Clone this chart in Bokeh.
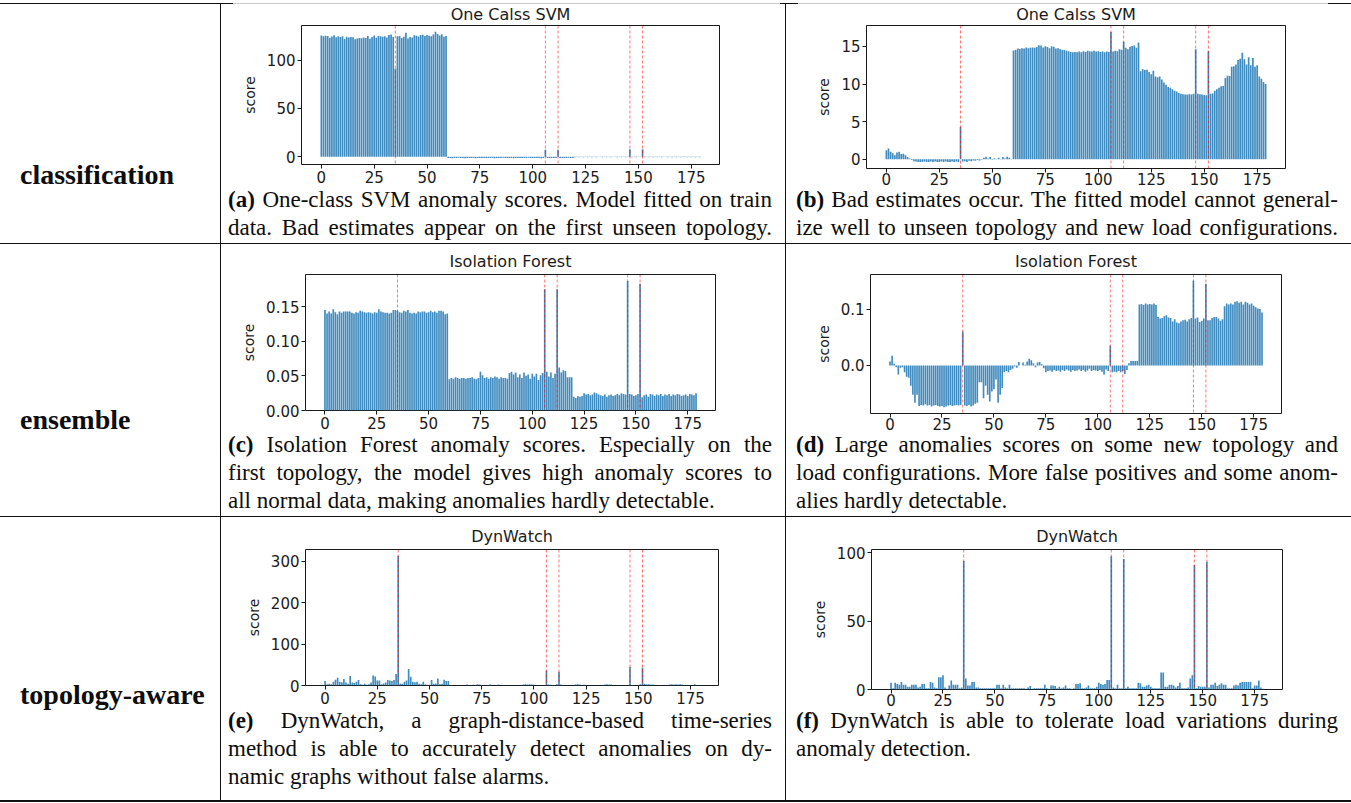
from bokeh.plotting import figure
from bokeh.layouts import row, column
from bokeh.models import Div, Span, Range1d, FixedTicker, NumeralTickFormatter
from bokeh.embed import file_html
from bokeh.resources import INLINE

# ---------------- data ----------------
timesteps = list(range(180))
anomalies = [35, 106, 112, 146, 152]
x_ticks = [0, 25, 50, 75, 100, 125, 150, 175]

row_labels = ["classification", "ensemble", "topology-aware"]
plot_titles = ["One Calss SVM", "Isolation Forest", "DynWatch"]

ocsvm_left = [
    125.5, 124.8, 125.2, 125.0, 123.2, 124.5, 125.8, 123.8, 124.6, 123.9,
    124.8, 122.0, 124.2, 123.5, 124.0, 123.6, 121.5, 122.4, 123.0, 122.6,
    123.4, 123.0, 124.9, 122.2, 124.0, 125.6, 123.1, 125.0, 124.7, 124.2,
    124.6, 123.5, 125.9, 126.6, 124.0, 91.0, 124.8, 125.0, 122.9, 124.3,
    128.4, 122.5, 124.0, 123.3, 125.8, 125.2, 124.4, 125.9, 126.2, 125.0,
    126.0, 125.3, 124.8, 126.4, 129.3, 127.0, 125.5, 126.8, 124.2, 125.0,
    -1.3, -1.1, -1.4, -1.2, -1.3, -1.0, -1.3, -1.2, -1.4, -1.1,
    -1.2, -1.3, -1.1, -1.4, -1.2, -1.3, -1.2, -1.1, -1.3, -1.2,
    -1.3, -1.2, -1.4, -1.1, -1.2, -1.3, -1.0, -1.2, -1.3, -1.1,
    -1.2, -1.4, -1.1, -1.3, -1.2, -1.1, -1.3, -1.2, -0.9, -1.3,
    -1.2, -1.1, -1.3, -1.2, -1.4, -1.2, 7.4, -1.3, -1.1, -1.2,
    -1.3, -1.2, 7.2, -1.1, -1.3, -1.2, -1.3, -1.0, -1.2, -1.1,
    -0.4, -0.3, -0.5, -0.3, -0.4, -0.2, -0.4, -0.3, -0.5, -0.3,
    -0.4, -0.3, -0.2, -0.4, -0.3, -0.5, -0.3, -0.4, -0.3, -0.2,
    -0.4, -0.3, -0.4, -0.3, -0.5, -0.3, 7.8, -0.4, -0.3, -0.4,
    -0.3, -0.2, 7.9, -0.4, -0.3, -0.4, -0.3, -0.5, -0.3, -0.4,
    -0.3, -0.4, -0.2, -0.3, -0.4, -0.3, -0.5, -0.3, -0.4, -0.3,
    -0.4, -0.3, -0.2, -0.4, -0.3, -0.4, -0.3, -0.5, -0.3, -0.4,
]

ocsvm_right = [
    1.2, 1.45, 1.0, 0.8, 0.55, 0.9, 1.0, 0.7, 0.75, 0.55,
    0.3, 0.1, -0.1, -0.25, -0.3, -0.35, -0.35, -0.35, -0.3, -0.35,
    -0.35, -0.3, -0.35, -0.3, -0.35, -0.35, -0.3, -0.35, -0.3, -0.35,
    -0.35, -0.3, -0.35, -0.3, -0.35, 4.3, -0.3, -0.25, -0.35, -0.2,
    -0.25, -0.15, -0.2, -0.1, -0.15, -0.05, 0.2, 0.35, 0.1, 0.3,
    -0.05, 0.15, 0.05, 0.2, 0.05, 0.3, 0.1, 0.35, 0.2, 0.05,
    14.45, 14.5, 14.7, 14.65, 14.75, 14.7, 14.85, 14.75, 14.8, 14.85,
    14.8, 14.9, 15.15, 15.1, 14.85, 15.0, 14.9, 14.75, 15.0, 14.95,
    14.7, 14.75, 14.6, 14.55, 14.5, 14.4, 14.35, 14.25, 14.2, 14.25,
    14.2, 14.3, 14.2, 14.35, 14.25, 14.4, 14.35, 14.3, 14.4, 14.3,
    14.35, 14.25, 14.3, 14.2, 14.3, 14.25, 16.9, 14.3, 14.4, 14.35,
    14.6, 14.55, 15.6, 14.8, 14.6, 14.95, 15.05, 15.1, 14.8, 15.5,
    11.7, 11.95, 11.85, 11.9, 11.6, 11.3, 11.75, 11.0, 10.9, 11.0,
    10.6, 10.2, 9.9, 9.6, 9.5, 9.3, 9.1, 9.0, 8.8, 8.7,
    8.65, 8.6, 8.6, 8.65, 8.6, 8.7, 14.6, 8.7, 8.65, 8.6,
    8.55, 8.5, 14.35, 8.7, 8.75, 9.1, 9.3, 9.5, 9.7, 9.75,
    10.8, 11.1, 11.05, 12.3, 12.35, 12.6, 13.2, 13.35, 14.15, 13.3,
    12.6, 13.55, 12.5, 13.45, 12.3, 12.5, 11.0, 10.7, 10.25, 10.0,
]

iforest_left = [
    0.145, 0.140, 0.143, 0.140, 0.146, 0.142, 0.139, 0.143, 0.141, 0.143,
    0.143, 0.143, 0.143, 0.141, 0.140, 0.142, 0.141, 0.144, 0.143, 0.142,
    0.141, 0.142, 0.141, 0.140, 0.142, 0.141, 0.146, 0.143, 0.142, 0.141,
    0.141, 0.140, 0.141, 0.145, 0.145, 0.144, 0.142, 0.141, 0.144, 0.143,
    0.145, 0.141, 0.140, 0.141, 0.140, 0.143, 0.142, 0.143, 0.143, 0.141,
    0.142, 0.144, 0.142, 0.143, 0.141, 0.144, 0.144, 0.143, 0.139, 0.140,
    0.045, 0.047, 0.046, 0.048, 0.047, 0.046, 0.047, 0.047, 0.046, 0.047,
    0.047, 0.048, 0.046, 0.045, 0.047, 0.056, 0.051, 0.047, 0.048, 0.046,
    0.048, 0.047, 0.049, 0.048, 0.046, 0.048, 0.047, 0.047, 0.046, 0.054,
    0.056, 0.052, 0.055, 0.048, 0.052, 0.047, 0.055, 0.050, 0.052, 0.046,
    0.053, 0.049, 0.053, 0.044, 0.051, 0.054, 0.175, 0.056, 0.049, 0.055,
    0.047, 0.053, 0.175, 0.062, 0.055, 0.058, 0.057, 0.048, 0.048, 0.048,
    0.020, 0.018, 0.021, 0.020, 0.021, 0.025, 0.023, 0.024, 0.022, 0.023,
    0.026, 0.025, 0.023, 0.022, 0.021, 0.023, 0.020, 0.022, 0.023, 0.021,
    0.022, 0.024, 0.022, 0.025, 0.024, 0.023, 0.187, 0.024, 0.023, 0.021,
    0.022, 0.024, 0.183, 0.019, 0.022, 0.023, 0.020, 0.024, 0.023, 0.021,
    0.023, 0.022, 0.024, 0.021, 0.023, 0.022, 0.024, 0.021, 0.023, 0.022,
    0.024, 0.023, 0.021, 0.022, 0.023, 0.021, 0.024, 0.023, 0.022, 0.025,
]

iforest_right = [
    0.007, 0.017, 0.003, -0.003, -0.016, -0.004, -0.003, -0.012, -0.020, -0.022,
    -0.036, -0.052, -0.066, -0.052, -0.072, -0.070, -0.071, -0.069, -0.071, -0.070,
    -0.073, -0.071, -0.070, -0.072, -0.073, -0.072, -0.074, -0.073, -0.071, -0.070,
    -0.072, -0.071, -0.070, -0.071, -0.070, 0.060, -0.071, -0.072, -0.070, -0.073,
    -0.071, -0.068, -0.066, -0.030, -0.030, -0.058, -0.036, -0.052, -0.064, -0.046,
    -0.042, -0.025, -0.066, -0.052, -0.040, -0.012, -0.010, -0.012, -0.008, -0.006,
    -0.002, -0.004, 0.006, 0.000, 0.005, 0.001, 0.007, 0.012, 0.009, 0.004,
    -0.003, 0.005, 0.006, 0.002, -0.005, -0.012, -0.010, -0.009, -0.011, -0.008,
    -0.010, -0.009, -0.011, -0.008, -0.010, -0.007, -0.009, -0.011, -0.008, -0.010,
    -0.009, -0.007, -0.010, -0.008, -0.011, -0.009, -0.006, -0.010, -0.008, -0.009,
    -0.010, -0.008, -0.011, -0.016, -0.007, -0.010, 0.035, -0.012, -0.011, -0.012,
    -0.010, -0.012, -0.010, -0.015, -0.008, 0.004, 0.008, 0.008, 0.008, 0.008,
    0.108, 0.109, 0.107, 0.110, 0.108, 0.109, 0.108, 0.110, 0.107, 0.086,
    0.083, 0.084, 0.087, 0.089, 0.085, 0.084, 0.078, 0.082, 0.076, 0.075,
    0.078, 0.080, 0.081, 0.078, 0.082, 0.084, 0.150, 0.083, 0.085, 0.077,
    0.079, 0.083, 0.145, 0.080, 0.080, 0.084, 0.086, 0.086, 0.083, 0.079,
    0.082, 0.105, 0.110, 0.108, 0.110, 0.108, 0.113, 0.114, 0.111, 0.113,
    0.108, 0.113, 0.111, 0.108, 0.110, 0.106, 0.103, 0.101, 0.100, 0.094,
]

dynwatch_left = [
    11, 3, 4, 3, 9, 14, 19, 9, 8, 16,
    7, 4, 23, 7, 6, 9, 13, 3, 2, 4,
    2, 3, 7, 24, 22, 12, 12, 3, 5, 7,
    13, 12, 11, 13, 28, 313, 5, 4, 9, 12,
    40, 21, 9, 8, 9, 4, 3, 9, 3, 2,
    2, 13, 4, 5, 17, 3, 4, 14, 11, 11,
    1.0, 0.5, 0.3, 0.5, 0.4, 0.6, 0.3, 0.5, 2.5, 0.4,
    0.3, 2.0, 0.5, 3.0, 2.5, 1.0, 0.4, 0.3, 0.5, 2.5,
    0.4, 0.3, 0.5, 2.5, 0.3, 0.4, 0.5, 0.3, 0.6, 0.4,
    0.5, 0.3, 0.4, 0.5, 0.6, 2.5, 3.0, 2.5, 3.0, 2.5,
    2.0, 0.5, 0.4, 0.3, 0.5, 1.0, 36.0, 2.5, 2.0, 1.0,
    0.5, 3.0, 33.0, 2.5, 1.0, 0.4, 0.5, 0.3, 0.4, 0.5,
    2.5, 3.0, 2.5, 0.5, 2.0, 0.4, 0.3, 0.5, 0.4, 0.3,
    0.5, 0.4, 0.3, 0.5, 2.5, 3.0, 2.5, 2.5, 0.4, 0.3,
    0.5, 0.4, 0.3, 0.5, 0.4, 0.6, 45.0, 1.0, 0.4, 0.3,
    0.5, 3.0, 43.0, 4.0, 3.0, 3.0, 2.5, 2.5, 0.4, 0.3,
    0.5, 0.4, 0.3, 0.5, 0.4, 2.5, 3.0, 2.5, 3.0, 2.5,
    3.0, 2.5, 0.4, 0.3, 0.5, 0.4, 0.3, 3.0, 0.5, 0.4,
]

dynwatch_right = [
    5, 1, 5, 4, 3.5, 5.5, 3.5, 3.5, 2, 2,
    3.5, 3.5, 3.5, 1.5, 2, 4, 4, 1, 1, 5.5,
    5, 1.5, 1, 9, 9, 10.5, 1.5, 0.5, 3, 6.5,
    3.5, 3.5, 3.5, 1, 1.5, 94, 8, 3, 3, 5.5,
    5.5, 1.5, 1.5, 1, 1, 1, 1, 1, 1, 1,
    1, 3.5, 3.5, 1, 3.5, 1.5, 1, 3.5, 1, 1,
    1, 1, 1, 1, 1, 0.5, 1.5, 2.5, 0.5, 1,
    1, 1, 1, 1, 3.5, 1, 0.5, 3, 3, 2.5,
    1, 2, 1, 1.5, 3, 1, 1, 0.5, 1, 4,
    4, 4.5, 1, 1, 1.5, 3, 1, 1, 1, 2,
    5, 4, 3.5, 4, 7, 7, 97.5, 1.5, 1, 3.5,
    1, 1, 95.5, 1, 2, 1, 1, 1, 1, 5,
    4.5, 2, 2, 3, 3.5, 2, 1, 1, 1, 1,
    12.5, 12.5, 2, 2, 3.5, 3.5, 3, 1.5, 2.5, 5,
    1, 1, 1, 1.5, 8, 10.5, 91, 1, 2.5, 2,
    2, 2, 93.5, 1.5, 3.5, 3.5, 5, 2.5, 3.5, 4.5,
    3.5, 3.5, 1, 1, 1, 3, 3.5, 3, 5, 5.5,
    5.5, 5.5, 5.5, 5.5, 1, 3, 3, 6.5, 1.5, 0.5,
]

captions = {
    "a": ("(a)", ["One-class SVM anomaly scores. Model fitted on train",
                  "data. Bad estimates appear on the first unseen topology."], True),
    "b": ("(b)", ["Bad estimates occur. The fitted model cannot general-",
                  "ize well to unseen topology and new load configurations."], True),
    "c": ("(c)", ["Isolation Forest anomaly scores. Especially on the",
                  "first topology, the model gives high anomaly scores to",
                  "all normal data, making anomalies hardly detectable."], False),
    "d": ("(d)", ["Large anomalies scores on some new topology and",
                  "load configurations. More false positives and some anom-",
                  "alies hardly detectable."], False),
    "e": ("(e)", ["DynWatch, a graph-distance-based time-series",
                  "method is able to accurately detect anomalies on dy-",
                  "namic graphs without false alarms."], False),
    "f": ("(f)", ["DynWatch is able to tolerate load variations during",
                  "anomaly detection."], False),
}

# ---------------- helpers ----------------
TXT = "#1a1a1a"
CAP = "#0d0d0d"
SERIF = "'Liberation Serif', 'Times New Roman', serif"


def bar_panel(title, values, yticks, yfmt, width, height, bl, fw, bt, fh, tstand, xstand, valign):
    lo = min(0.0, min(values))
    hi = max(0.0, max(values))
    span = hi - lo
    y0 = lo - 0.05 * span if lo < 0 else 0.0
    y1 = hi + 0.05 * span
    p = figure(width=width, height=height, output_backend="svg", toolbar_location=None,
               x_range=Range1d(-9.39, 188.39), y_range=Range1d(y0, y1),
               min_border_left=bl, min_border_right=width - bl - fw,
               min_border_top=bt, min_border_bottom=height - bt - fh,
               background_fill_color="white", border_fill_color="white",
               margin=(0, 0, 0, 0))
    p.vbar(x=timesteps, top=values, bottom=0, width=0.8,
           fill_color="#1f77b4", fill_alpha=0.85, line_color=None)
    for a in anomalies:
        p.add_layout(Span(location=a, dimension="height", line_color="red",
                          line_width=1, line_dash="3 2", line_alpha=0.55))
    p.title.text = title
    p.title.align = "center"
    p.title.vertical_align = valign
    p.title.text_font = "DejaVu Sans"
    p.title.text_font_size = "16px"
    p.title.text_font_style = "normal"
    p.title.text_color = TXT
    p.title.standoff = tstand
    p.outline_line_color = "#1a1a1a"
    p.outline_line_width = 1
    p.xgrid.visible = False
    p.ygrid.visible = False
    p.xaxis.ticker = FixedTicker(ticks=x_ticks)
    p.yaxis.ticker = FixedTicker(ticks=yticks)
    p.yaxis.formatter = NumeralTickFormatter(format=yfmt)
    for ax in (p.xaxis[0], p.yaxis[0]):
        ax.axis_line_color = None
        ax.major_tick_out = 4
        ax.major_tick_in = 0
        ax.major_tick_line_color = "#1a1a1a"
        ax.minor_tick_line_color = None
        ax.major_label_text_font = "DejaVu Sans"
        ax.major_label_text_font_size = "15px"
        ax.major_label_text_color = TXT
        ax.major_label_standoff = 2
    p.xaxis.major_label_standoff = xstand
    p.yaxis.axis_label = "score"
    p.yaxis.axis_label_text_font = "DejaVu Sans"
    p.yaxis.axis_label_text_font_size = "14px"
    p.yaxis.axis_label_text_font_style = "normal"
    p.yaxis.axis_label_text_color = TXT
    p.yaxis.axis_label_standoff = 6
    return p


def caption_div(key, width, height, left, text_w, tops):
    tag, lines, justify_last = captions[key]
    parts = [f'<div style="position:relative;width:{width}px;height:{height}px;'
             f'font-family:{SERIF};font-size:23px;color:{CAP};">']
    for i, (ln, top) in enumerate(zip(lines, tops)):
        last = i == len(lines) - 1
        al = "justify" if (not last or justify_last) else "left"
        txt = (f"<b>{tag}</b> " + ln) if i == 0 else ln
        parts.append(f'<div style="position:absolute;left:{left}px;top:{top}px;width:{text_w}px;'
                     f'line-height:20px;text-align:{al};text-align-last:{al};">{txt}</div>')
    parts.append("</div>")
    return Div(text="".join(parts), width=width, height=height, margin=(0, 0, 0, 0))


def label_div(text, height, top):
    html = (f'<div style="position:relative;width:220px;height:{height}px;">'
            f'<div style="position:absolute;left:20px;top:{top}px;line-height:30px;'
            f'font-family:{SERIF};font-size:28px;font-weight:bold;color:{CAP};">{text}</div></div>')
    return Div(text=html, width=220, height=height, margin=(0, 0, 0, 0))


def seg(w, h, color):
    return Div(text="", width=w, height=h, margin=(0, 0, 0, 0),
               styles={"background-color": color})


def hline(h=1, color="#111111"):
    return seg(1351, h, color)


def vline(h):
    return seg(1, h, "#111111")


# top rule: dark where it is not covered by the plot images, light where it is
top_rule = row(seg(233, 1, "#111111"), seg(547, 1, "#c8c8c8"), seg(18, 1, "#111111"),
               seg(530, 1, "#c8c8c8"), seg(23, 1, "#111111"), spacing=0)

WA, WB = 564, 565

# row 1  (y 4..242)
R1 = 239
pa = bar_panel(plot_titles[0], ocsvm_left, [0, 50, 100], "0", WA, 186, 80, 418, 21, 139, 0, 2, "top")
pb = bar_panel(plot_titles[0], ocsvm_right, [0, 5, 10, 15], "0", WB, 186, 80, 419, 21, 143, 0, 0, "top")
row1 = row(label_div(row_labels[0], R1, 156), vline(R1),
           column(pa, caption_div("a", WA, 53, 7, 544, [0, 28]), spacing=0), vline(R1),
           column(pb, caption_div("b", WB, 53, 10, 542, [0, 28]), spacing=0), spacing=0)

# row 2  (y 244..515)
R2 = 272
pc = bar_panel(plot_titles[1], iforest_left, [0.0, 0.05, 0.10, 0.15], "0.00", WA, 191, 84, 410, 30, 136, 7, 2, "bottom")
pd_ = bar_panel(plot_titles[1], iforest_right, [0.0, 0.1], "0.0", WB, 191, 84, 411, 30, 139, 7, 0, "bottom")
row2 = row(label_div(row_labels[1], R2, 161), vline(R2),
           column(pc, caption_div("c", WA, 81, 7, 544, [0, 28, 56]), spacing=0), vline(R2),
           column(pd_, caption_div("d", WB, 81, 10, 542, [0, 28, 56]), spacing=0), spacing=0)

# row 3  (y 517..799)
R3 = 283
pe = bar_panel(plot_titles[2], dynwatch_left, [0, 100, 200, 300], "0", WA, 194, 84, 413, 32, 136, 7, 2, "bottom")
pf = bar_panel(plot_titles[2], dynwatch_right, [0, 50, 100], "0", WB, 194, 85, 411, 32, 140, 7, 0, "bottom")
row3 = row(label_div(row_labels[2], R3, 163), vline(R3),
           column(pe, caption_div("e", WA, 89, 7, 544, [0, 28, 56]), spacing=0), vline(R3),
           column(pf, caption_div("f", WB, 89, 10, 542, [0, 28, 56]), spacing=0), spacing=0)

layout = column(hline(3, "#ffffff"), top_rule, row1, hline(), row2, hline(), row3, hline(2),
                spacing=0)

open("out.html", "w").write(file_html(layout, INLINE))
